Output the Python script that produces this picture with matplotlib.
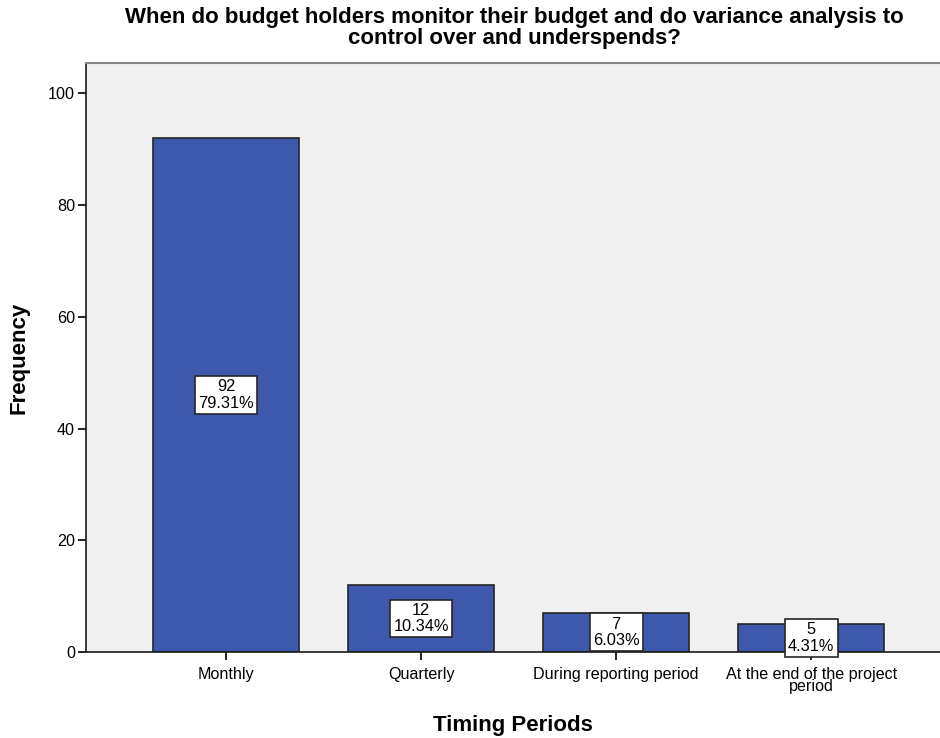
import matplotlib
matplotlib.use("Agg")
import matplotlib.pyplot as plt

plt.rcParams['font.family'] = ['Liberation Sans', 'DejaVu Sans']

categories = ["Monthly", "Quarterly", "During reporting period",
              "At the end of the project\nperiod"]
counts = [92, 12, 7, 5]
percents = ["79.31%", "10.34%", "6.03%", "4.31%"]
yticks = [0, 20, 40, 60, 80, 100]

fig = plt.figure(figsize=(9.4, 7.38), dpi=100)
ax = fig.add_axes([0.0915, 0.1165, 0.9085, 0.798])
ax.set_facecolor("#F0F0F0")

x = list(range(len(categories)))
ax.bar(x, counts, width=0.75, color="#3E58AC", edgecolor="#262626", linewidth=1.2, zorder=2)

# count + percent label boxes in the middle of each bar
for xi, c, p in zip(x, counts, percents):
    ax.text(xi, c / 2, f"{c}\n{p}", ha="center", va="center", fontsize=11.8,
            linespacing=1.12, zorder=3,
            bbox=dict(boxstyle="square,pad=0.2", fc="white", ec="#262626", lw=1.2))

ax.set_xlim(-0.718, 3.66)
ax.set_ylim(0, 105.4)
ax.set_yticks(yticks)
ax.set_xticks(x)
ax.set_xticklabels(categories, fontsize=11.6, linespacing=0.75)
ax.tick_params(axis="y", labelsize=11.6, length=6, width=1.2, direction="out", pad=2)
ax.tick_params(axis="x", length=6, width=1.2, direction="out", pad=5)

for s in ["left", "bottom"]:
    ax.spines[s].set_color("#1a1a1a")
    ax.spines[s].set_linewidth(1.2)
ax.spines["top"].set_color("#888888")
ax.spines["top"].set_linewidth(1.5)
ax.spines["right"].set_visible(False)

ax.set_ylabel("Frequency", fontsize=16, fontweight="bold", labelpad=13)
ax.set_xlabel("Timing Periods", fontsize=16, fontweight="bold", labelpad=15)
fig.text(0.547, 0.991,
         "When do budget holders monitor their budget and do variance analysis to\n"
         "control over and underspends?",
         ha="center", va="top", fontsize=16, fontweight="bold", linespacing=1.0)

fig.savefig("out.png", dpi=100)
